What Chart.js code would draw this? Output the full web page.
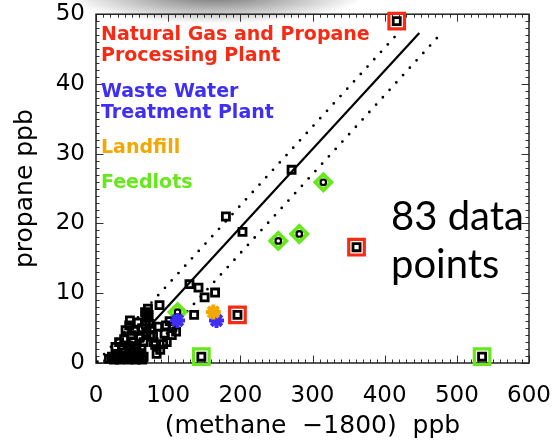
<!DOCTYPE html>
<html>
<head>
<meta charset="utf-8">
<title>propane vs methane</title>
<script src="https://cdn.jsdelivr.net/npm/chart.js@4.4.0/dist/chart.umd.min.js"></script>
<style>
  html, body { margin: 0; padding: 0; background: #fff; }
</style>
</head>
<body>
<canvas id="canvas" width="556" height="442"></canvas>

<script>
// every sample (black squares), (methane - 1800) ppb vs propane ppb
var sampleX = [416.7, 271, 180, 203, 361, 129.5, 142, 150.5, 165, 136, 196, 146, 535, 88,
  18, 22, 25, 28, 30, 33, 35, 38, 40, 42, 45, 47, 50, 52, 55, 57, 60, 62, 64, 66,
  27, 32, 36, 39, 44, 48, 51, 56, 60, 63, 66,
  41, 46, 47, 49, 53, 58, 61, 64,
  68, 70, 73, 69, 74, 77, 70, 75, 79, 72,
  82, 84, 89, 93, 98, 105, 95, 86, 97, 106, 111, 80, 102];
var sampleY = [49.0, 27.7, 21.0, 18.8, 16.6, 11.3, 10.8, 9.4, 10.1, 6.9, 6.9, 0.9, 0.9, 8.3,
  0.6, 0.9, 0.5, 1.2, 0.7, 0.5, 1.0, 0.6, 1.5, 0.8, 0.5, 1.1, 0.6, 1.7, 0.5, 1.0, 0.6, 1.4, 0.5, 0.9,
  2.3, 3.0, 2.0, 3.4, 2.5, 2.0, 3.1, 2.4, 3.6, 2.1, 3.0,
  4.7, 5.4, 6.1, 4.0, 4.6, 5.8, 3.8, 5.0,
  7.3, 6.5, 6.9, 5.5, 5.6, 5.0, 4.3, 4.0, 3.8, 7.8,
  2.6, 1.3, 1.9, 2.7, 3.0, 4.0, 4.2, 5.2, 5.4, 5.2, 4.5, 3.0, 6.0];

// natural gas and propane processing plant
var gasX = [416.7, 361, 196];
var gasY = [49.0, 16.6, 6.9];
// feedlots (squares and diamonds)
var feedSqX = [146, 535];
var feedSqY = [0.9, 0.9];
var feedDiaX = [113, 252.6, 281.7, 315];
var feedDiaY = [7.3, 17.5, 18.5, 25.9];
// waste water treatment plant
var wasteX = [113, 167];
var wasteY = [6.1, 6.1];
// landfill
var landX = [162.6];
var landY = [7.3];

// fit line and its band
var fitX = [79, 448];
var fitY = [5.8, 47.3];
var upperX = [2, 417];
var upperY = [0.2, 47.1];
var lowerX = [61, 477];
var lowerY = [0, 47.1];

var xMin = 0, xMax = 600, xStep = 100, xMinor = 10;
var yMin = 0, yMax = 50, yStep = 10, yMinor = 1;

var RED = '#f82a14', BLUE = '#3f2ef5', ORANGE = '#f2a800', GREEN = '#66e81a';

function pts(xs, ys) {
  return xs.map(function (x, i) { return {x: x, y: ys[i]}; });
}

var idlBox = {
  id: 'idlBox',
  beforeDatasetsDraw: function (chart) {
    var ctx = chart.ctx, a = chart.chartArea;
    var xs = chart.scales.x, ys = chart.scales.y;
    var v, p, len;

    // grey slide shadow at the top edge
    ctx.save();
    ctx.translate(215, -6);
    ctx.scale(1, 0.2);
    var g = ctx.createRadialGradient(0, 0, 0, 0, 0, 150);
    g.addColorStop(0, 'rgba(60,60,60,0.75)');
    g.addColorStop(1, 'rgba(60,60,60,0)');
    ctx.fillStyle = g;
    ctx.fillRect(-150, -150, 300, 300);
    ctx.restore();

    ctx.save();
    ctx.strokeStyle = '#333';
    ctx.lineWidth = 1;
    ctx.beginPath();
    for (v = xMin; v <= xMax; v += xMinor) {
      p = Math.round(xs.getPixelForValue(v)) + 0.5;
      len = v % xStep === 0 ? 7.5 : 3.5;
      ctx.moveTo(p, a.bottom); ctx.lineTo(p, a.bottom - len);
      ctx.moveTo(p, a.top); ctx.lineTo(p, a.top + len);
    }
    for (v = yMin; v <= yMax; v += yMinor) {
      p = Math.round(ys.getPixelForValue(v)) + 0.5;
      len = v % yStep === 0 ? 7.5 : 3.5;
      ctx.moveTo(a.left, p); ctx.lineTo(a.left + len, p);
      ctx.moveTo(a.right, p); ctx.lineTo(a.right - len, p);
    }
    ctx.stroke();
    ctx.lineWidth = 1.5;
    ctx.strokeStyle = '#222';
    ctx.strokeRect(a.left, a.top, a.right - a.left, a.bottom - a.top);
    ctx.restore();
  },
  afterDatasetsDraw: function (chart) {
    var ctx = chart.ctx, a = chart.chartArea;
    var tx = a.left + 5;
    ctx.save();
    ctx.textBaseline = 'alphabetic';
    ctx.font = 'bold 19px "DejaVu Sans"';
    ctx.fillStyle = RED;
    ctx.fillText('Natural Gas and Propane', tx, 39.5);
    ctx.fillText('Processing Plant', tx, 60.5);
    ctx.fillStyle = BLUE;
    ctx.fillText('Waste Water', tx, 97);
    ctx.fillText('Treatment Plant', tx, 117.5);
    ctx.fillStyle = ORANGE;
    ctx.fillText('Landfill', tx, 153);
    ctx.fillStyle = GREEN;
    ctx.fillText('Feedlots', tx, 187.5);
    ctx.fillStyle = '#000';
    ctx.font = '40px Lato';
    ctx.fillText('83 data', 391, 229.5);
    ctx.fillText('points', 391, 278);
    ctx.restore();
  }
};

var lineBase = {
  showLine: true,
  pointRadius: 0,
  fill: false,
  borderColor: '#000',
  order: 7
};

new Chart(document.getElementById('canvas'), {
  type: 'scatter',
  plugins: [idlBox],
  data: {
    datasets: [
      {data: pts(landX, landY), pointStyle: 'star', pointRadius: 7.5, borderWidth: 4,
       borderColor: ORANGE, backgroundColor: ORANGE, order: 1, clip: false},
      {data: pts(wasteX, wasteY), pointStyle: 'star', pointRadius: 7.5, borderWidth: 4,
       borderColor: BLUE, backgroundColor: BLUE, order: 2, clip: false},
      {data: pts(feedDiaX, feedDiaY), pointStyle: 'circle', pointRadius: 2.8, borderWidth: 2.2,
       borderColor: '#000', backgroundColor: '#fff', order: 3, clip: false},
      {data: pts(feedDiaX, feedDiaY), pointStyle: 'rectRot', pointRadius: 8, borderWidth: 3.8,
       borderColor: GREEN, backgroundColor: '#fff', order: 4, clip: false},
      {data: pts(gasX, gasY), pointStyle: 'rect', pointRadius: 11, borderWidth: 3.2,
       borderColor: RED, backgroundColor: 'rgba(0,0,0,0)', order: 5, clip: false},
      {data: pts(feedSqX, feedSqY), pointStyle: 'rect', pointRadius: 11, borderWidth: 3.2,
       borderColor: GREEN, backgroundColor: 'rgba(0,0,0,0)', order: 5, clip: false},
      {data: pts(sampleX, sampleY), pointStyle: 'rect', pointRadius: 5, borderWidth: 2.8,
       borderColor: '#000', backgroundColor: 'rgba(0,0,0,0)', order: 6, clip: false},
      Object.assign({data: pts(fitX, fitY), borderWidth: 2.2}, lineBase),
      Object.assign({data: pts(upperX, upperY), borderWidth: 2.8, borderDash: [0, 10],
                     borderCapStyle: 'round'}, lineBase),
      Object.assign({data: pts(lowerX, lowerY), borderWidth: 2.8, borderDash: [0, 10],
                     borderCapStyle: 'round'}, lineBase)
    ]
  },
  options: {
    responsive: false,
    animation: false,
    devicePixelRatio: 1,
    layout: { padding: {left: 0, right: 27, top: 13, bottom: 0} },
    plugins: {
      legend: { display: false },
      tooltip: { enabled: false }
    },
    elements: { point: { hoverRadius: 0 } },
    scales: {
      x: {
        type: 'linear',
        min: xMin, max: xMax,
        grid: { display: false, drawTicks: false },
        border: { display: false },
        ticks: { stepSize: xStep, padding: 19, color: '#000',
                 font: {family: 'DejaVu Sans', size: 23} },
        title: { display: true, text: '(methane  \u22121800)  ppb', color: '#000',
                 padding: {top: 0, bottom: 1},
                 font: {family: 'DejaVu Sans', size: 25} },
        afterFit: function (s) { s.height = 79; s.paddingLeft = 0; s.paddingRight = 0; }
      },
      y: {
        type: 'linear',
        min: yMin, max: yMax,
        grid: { display: false, drawTicks: false },
        border: { display: false },
        ticks: { stepSize: yStep, padding: 11, color: '#000',
                 font: {family: 'DejaVu Sans', size: 23} },
        title: { display: true, text: 'propane ppb', color: '#000',
                 padding: {top: 10, bottom: 0},
                 font: {family: 'DejaVu Sans', size: 25} },
        afterFit: function (s) { s.width = 96; s.paddingTop = 0; s.paddingBottom = 0; }
      }
    }
  }
});
</script>
</body>
</html>
